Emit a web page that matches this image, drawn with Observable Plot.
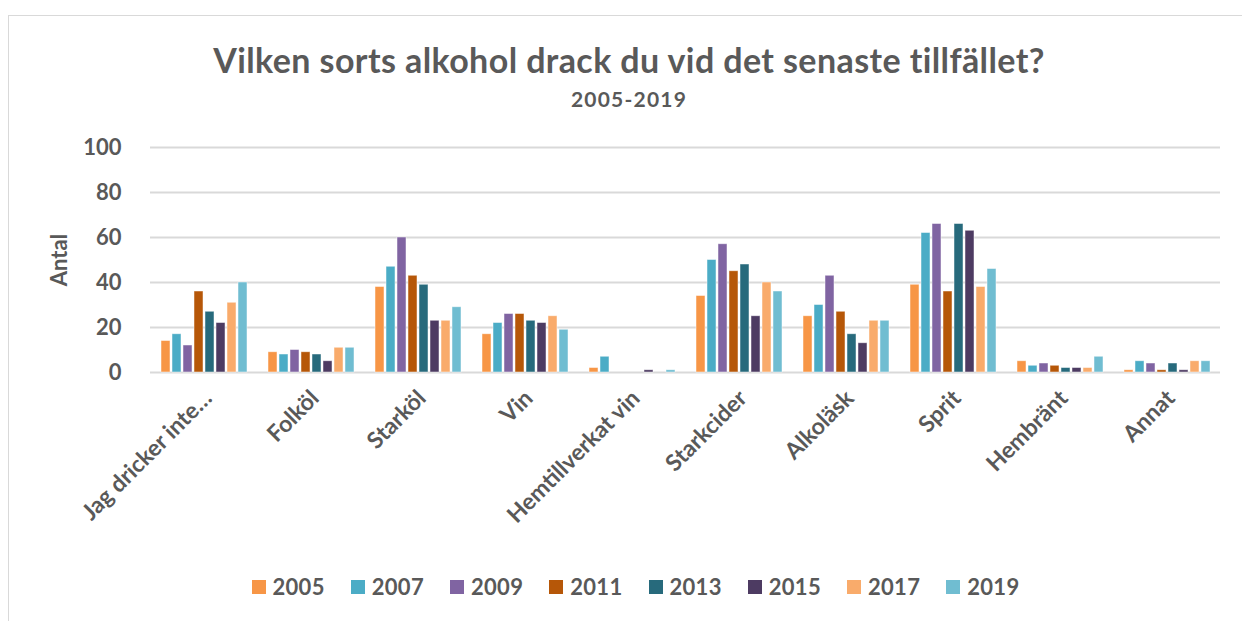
<!DOCTYPE html>
<html>
<head>
<meta charset="utf-8">
<script src="https://cdn.jsdelivr.net/npm/d3@7"></script>
<script src="https://cdn.jsdelivr.net/npm/@observablehq/plot@0.6"></script>
<style>
  html, body { margin: 0; padding: 0; background: #fff; }
  body { width: 1242px; height: 621px; position: relative; overflow: hidden;
         font-family: Lato, "Noto Sans", sans-serif; color: #595959; }
  #frame { position: absolute; left: 8px; top: 15px; width: 1240px; height: 620px; border: 1px solid #d9d9d9; box-sizing: border-box; }
  #title { position: absolute; left: 0; width: 1258px; top: 40px; text-align: center; font-weight: bold; font-size: 34px; letter-spacing: 0.4px; line-height: 40px; }
  #subtitle { position: absolute; left: 0; width: 1258px; top: 87px; text-align: center; font-weight: bold; font-size: 21px; letter-spacing: 1.2px; line-height: 24px; }
  #ylabel { position: absolute; left: 58px; top: 260px; transform: translate(-50%, -50%) rotate(-90deg); font-weight: bold; font-size: 22px; white-space: nowrap; }
  #chart { position: absolute; left: 0; top: 130px; }
  #legend { position: absolute; left: 0; width: 1271px; top: 573px; display: flex; justify-content: center; font-weight: bold; font-size: 22px; letter-spacing: 0.3px; line-height: 28px; }
  .item { display: flex; align-items: center; margin: 0 13px; }
  .sw { width: 14px; height: 14px; margin-right: 7px; }
</style>
</head>
<body>
<div id="frame"></div>
<div id="title">Vilken sorts alkohol drack du vid det senaste tillfället?</div>
<div id="subtitle">2005-2019</div>
<div id="ylabel">Antal</div>
<div id="chart"></div>
<div id="legend"></div>
<script>
const categories = ["Jag dricker inte…", "Folköl", "Starköl", "Vin", "Hemtillverkat vin", "Starkcider", "Alkoläsk", "Sprit", "Hembränt", "Annat"];
const years = ["2005", "2007", "2009", "2011", "2013", "2015", "2017", "2019"];
const colors = ["#F79646", "#4BACC6", "#8064A2", "#B65708", "#276A7C", "#4D3B62", "#F9AB6B", "#70BDD1"];
const yTicks = [0, 20, 40, 60, 80, 100];

const v2005 = [14, 9, 38, 17, 2, 34, 25, 39, 5, 1];
const v2007 = [17, 8, 47, 22, 7, 50, 30, 62, 3, 5];
const v2009 = [12, 10, 60, 26, 0, 57, 43, 66, 4, 4];
const v2011 = [36, 9, 43, 26, 0, 45, 27, 36, 3, 1];
const v2013 = [27, 8, 39, 23, 0, 48, 17, 66, 2, 4];
const v2015 = [22, 5, 23, 22, 1, 25, 13, 63, 2, 1];
const v2017 = [31, 11, 23, 25, 0, 40, 23, 38, 2, 5];
const v2019 = [40, 11, 29, 19, 1, 36, 23, 46, 7, 5];

const series = [v2005, v2007, v2009, v2011, v2013, v2015, v2017, v2019];
const data = [];
categories.forEach((c, i) => {
  years.forEach((y, j) => {
    data.push({category: c, year: y, value: series[j][i]});
  });
});

const chart = Plot.plot({
  width: 1242,
  height: 440,
  marginTop: 17,
  marginBottom: 198,
  marginLeft: 146,
  marginRight: 19,
  style: {
    fontFamily: 'Lato, "Noto Sans", sans-serif',
    fontSize: "21px",
    fontWeight: "bold",
    color: "#595959",
    background: "transparent"
  },
  fx: {domain: categories, padding: 0, label: null},
  x: {domain: years, axis: null, paddingInner: 0.2, paddingOuter: 0.85},
  y: {domain: [0, 100], ticks: yTicks, label: null, axis: null},
  color: {domain: years, range: colors},
  marks: [
    Plot.ruleY(yTicks, {stroke: "#d9d9d9", strokeWidth: 1.8}),
    Plot.barY(data, {fx: "category", x: "year", y: "value", fill: "year", stroke: "white", strokeOpacity: 0.6, strokeWidth: 0.8}),
    Plot.axisY({ticks: yTicks, tickSize: 0, tickPadding: 29, label: null, fontSize: 22, fill: "#595959"}),
    Plot.axisFx({anchor: "bottom", tickRotate: -45, tickSize: 0, tickPadding: 22, dx: 4, label: null, fontSize: 23, fill: "#595959"})
  ]
});
document.getElementById("chart").appendChild(chart);

const legend = document.getElementById("legend");
years.forEach((y, j) => {
  const item = document.createElement("div");
  item.className = "item";
  const sw = document.createElement("span");
  sw.className = "sw";
  sw.style.background = colors[j];
  const t = document.createElement("span");
  t.textContent = y;
  item.appendChild(sw);
  item.appendChild(t);
  legend.appendChild(item);
});
</script>
</body>
</html>
